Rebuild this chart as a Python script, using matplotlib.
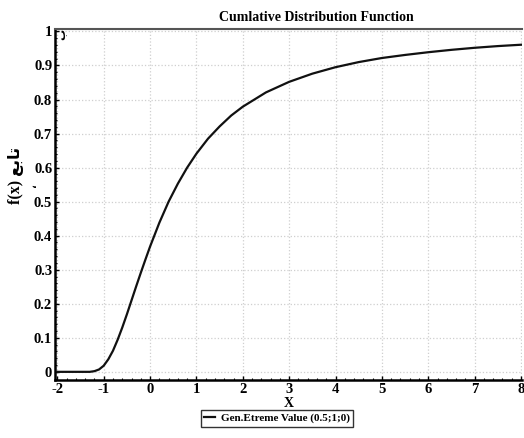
import numpy as np
import matplotlib
matplotlib.use('Agg')
import matplotlib.pyplot as plt
from matplotlib.ticker import AutoMinorLocator

# CDF values
x_vals = [-2.0, -1.5, -1.3, -1.2, -1.1, -1.0, -0.9, -0.8, -0.7, -0.6, -0.5,
          -0.4, -0.3, -0.2, -0.1, 0.0, 0.2, 0.4, 0.6, 0.8, 1.0, 1.25, 1.5,
          1.75, 2.0, 2.5, 3.0, 3.5, 4.0, 4.5, 5.0, 5.5, 6.0, 6.5, 7.0, 7.5, 8.0]
cdf_vals = [0.0, 0.0, 0.0, 0.002, 0.007, 0.018, 0.037, 0.062, 0.094, 0.130, 0.169,
            0.210, 0.251, 0.291, 0.330, 0.368, 0.438, 0.500, 0.553, 0.600, 0.641,
            0.685, 0.721, 0.753, 0.779, 0.821, 0.852, 0.876, 0.895, 0.910, 0.922,
            0.931, 0.939, 0.946, 0.952, 0.957, 0.961]

x_ticks = [-2, -1, 0, 1, 2, 3, 4, 5, 6, 7, 8]
y_ticks = [0, 0.1, 0.2, 0.3, 0.4, 0.5, 0.6, 0.7, 0.8, 0.9, 1]
y_ticklabels = ['0', '0.1', '0.2', '0.3', '0.4', '0.5', '0.6', '0.7', '0.8', '0.9', '1']

serif = ['Liberation Serif', 'DejaVu Serif']
plt.rcParams['font.family'] = serif
plt.rcParams['font.weight'] = 'bold'
plt.rcParams['axes.unicode_minus'] = False

fig = plt.figure(figsize=(5.24, 4.38), dpi=100)
ax = fig.add_axes([0.105, 0.1324, 0.891, 0.802])

ax.plot(x_vals, cdf_vals, color='#111111', lw=1.6, label='Gen.Etreme Value (0.5;1;0)')

ax.set_xlim(-2.05, 8.02)
ax.set_ylim(-0.024, 1.008)
ax.set_xticks(x_ticks)
ax.set_yticks(y_ticks)
ax.set_yticklabels(y_ticklabels)
ax.xaxis.set_minor_locator(AutoMinorLocator(5))
ax.yaxis.set_minor_locator(AutoMinorLocator(5))
ax.tick_params(which='major', direction='in', length=3, width=1, labelsize=10.5, pad=2)
ax.tick_params(which='minor', direction='in', length=1.5, width=0.8)
for lab in ax.get_xticklabels() + ax.get_yticklabels():
    lab.set_fontweight('bold')

ax.grid(True, which='major', color='#cfcfcf', linestyle=':', lw=0.9)

ax.spines['right'].set_visible(False)
ax.spines['top'].set_color('#555555')
ax.spines['top'].set_linewidth(1.5)
ax.spines['left'].set_linewidth(1.8)
ax.spines['bottom'].set_linewidth(1.8)

ax.set_xlabel('X', fontsize=10, fontweight='bold', labelpad=1)

fig.text(0.603, 0.959, 'Cumlative Distribution Function', ha='center', va='center',
         fontsize=10, fontweight='bold')

# y label: f(x) plus Arabic word (visual order, presentation forms)
fig.text(0.03, 0.60, 'f(x) \uFECA\uFE91\uFE8E\uFE97', rotation=90, ha='center', va='center',
         fontsize=11.5, fontweight='bold', family=['Liberation Serif', 'DejaVu Sans'])
fig.text(0.063, 0.578, '\u060C', rotation=90, ha='center', va='center', fontsize=7,
         family=['DejaVu Sans'])
fig.text(0.119, 0.922, '\uFE8F', rotation=90, ha='center', va='center', fontsize=8,
         family=['DejaVu Sans'])

leg = fig.legend(loc='center', bbox_to_anchor=(0.529, 0.045),
                 frameon=True, fancybox=False, handlelength=1.0, handletextpad=0.5,
                 borderpad=0.3, prop={'weight': 'bold', 'size': 8})
leg.get_frame().set_edgecolor('black')
leg.get_frame().set_linewidth(1.0)

plt.savefig('out.png', dpi=100)
